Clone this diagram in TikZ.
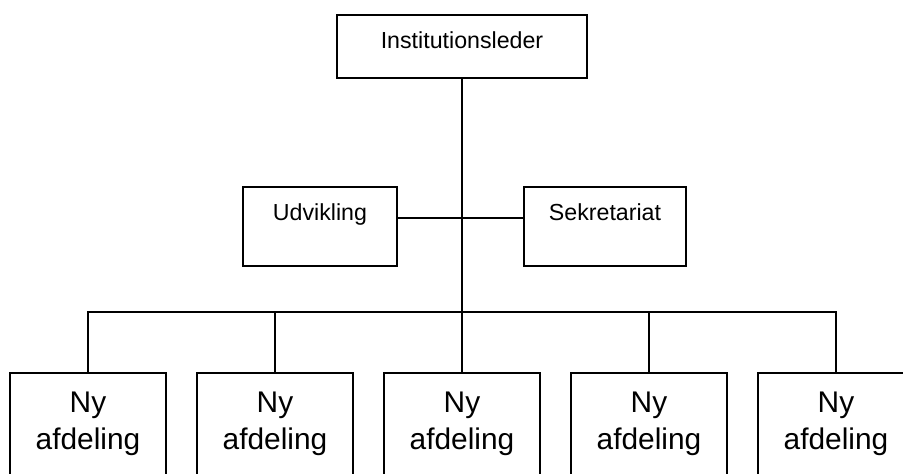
\documentclass[tikz,border=0pt]{standalone}
\usepackage{fontspec}
\setmainfont{Liberation Sans}
\usepackage{tikz}

\begin{document}
\begin{tikzpicture}[
    box/.style={draw, rectangle, line width=0.8pt},
    smalltext/.style={font=\fontsize{13.2}{16}\selectfont},
    bigtext/.style={font=\fontsize{17}{21}\selectfont, align=center}
]
    % Fix the picture size
    \clip (0,0) rectangle (18.06,9.48);

    % Draw the top box
    \node[box, smalltext, minimum width=5cm, minimum height=1.26cm, text height=0.5cm, text depth=0.426cm] (leder) at (9.24,8.55) {Institutionsleder};

    % Draw the staff boxes
    \node[box, smalltext, minimum width=3.08cm, minimum height=1.58cm, text height=0.4cm, text depth=0.65cm] (udv) at (6.40,4.95) {Udvikling};
    \node[box, smalltext, minimum width=3.24cm, minimum height=1.58cm, text height=0.4cm, text depth=0.65cm] (sek) at (12.10,4.95) {Sekretariat};

    % Draw the department boxes
    \foreach \i in {1,...,5} {
        \node[box, bigtext, minimum width=3.12cm, minimum height=2.04cm] (afd\i) at ({1.76+3.74*(\i-1)},1.00) {Ny\\afdeling};
    }

    % Draw the connecting lines
    \coordinate (hub) at (9.24,5.12);
    \coordinate (bus) at (9.24,3.24);
    \draw[line width=0.8pt] (leder.south) -- (bus);
    \draw[line width=0.8pt] (udv.east |- hub) -- (sek.west |- hub);
    \foreach \i in {1,...,5} {
        \draw[line width=0.8pt] (afd\i.north) |- (bus);
    }
\end{tikzpicture}
\end{document}
